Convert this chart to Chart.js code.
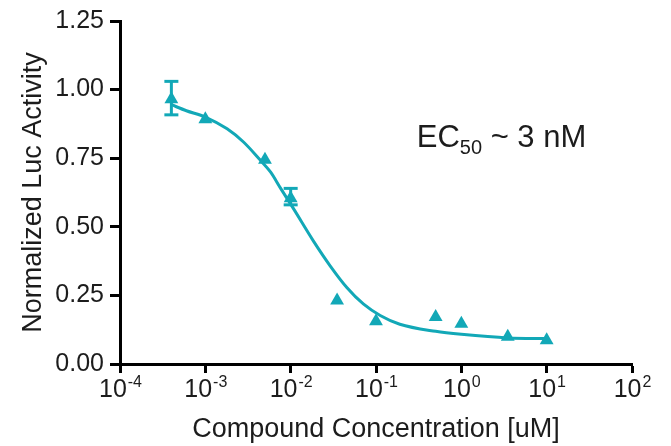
<!DOCTYPE html>
<html>
<head>
<meta charset="utf-8">
<script src="https://cdn.jsdelivr.net/npm/chart.js@4"></script>
<style>
  html, body { margin: 0; padding: 0; background: #fff; }
  #wrap { width: 671px; height: 446px; }
</style>
</head>
<body>
<div id="wrap"><canvas id="doseChart" width="671" height="446"></canvas></div>
<script>
// measured points (concentration in uM, normalized activity)
const concentration = [0.0004, 0.001, 0.005, 0.01, 0.035, 0.1, 0.5, 1, 3.5, 10];
const activity = [0.965, 0.892, 0.744, 0.604, 0.231, 0.156, 0.171, 0.147, 0.099, 0.087];

// error bars (only two points have visible ones)
const errorX = [0.0004, 0.01];
const errorLow = [0.908, 0.58];
const errorHigh = [1.03, 0.64];

// fitted curve
const fitX = [0.0004, 0.0006, 0.001, 0.0018, 0.0028, 0.0044, 0.0058, 0.0076, 0.0107, 0.0185, 0.029, 0.0455, 0.071, 0.112, 0.19, 0.5, 1, 3.5, 10];
const fitY = [0.945, 0.923, 0.90, 0.857, 0.809, 0.743, 0.70, 0.641, 0.568, 0.448, 0.358, 0.279, 0.219, 0.177, 0.145, 0.119, 0.108, 0.095, 0.093];

// axes
const xTicks = [1e-4, 1e-3, 1e-2, 1e-1, 1, 10, 100];
const yTicks = [0, 0.25, 0.5, 0.75, 1.0, 1.25];

// annotation anchor, in data units
const labelPos = [0.3, 0.79];

const teal = '#12a8b7';
const ink = '#1c1c1c';
const fontFamily = '"Liberation Sans", Arial, Helvetica, sans-serif';

// x tick labels drawn as 10 + raised exponent, plus the EC50 note
const powerLabels = {
    id: 'powerLabels',
    afterDraw(chart) {
        const ctx = chart.ctx;
        const sx = chart.scales.x;
        ctx.save();
        ctx.fillStyle = ink;
        ctx.textBaseline = 'alphabetic';
        ctx.textAlign = 'left';
        sx.ticks.forEach(t => {
            const px = sx.getPixelForValue(t.value);
            const exp = String(Math.round(Math.log10(t.value)));
            ctx.font = '25px ' + fontFamily;
            const w1 = ctx.measureText('10').width;
            ctx.font = '16px ' + fontFamily;
            const w2 = ctx.measureText(exp).width;
            const start = px - (w1 + w2) / 2;
            const base = sx.top + 33;
            ctx.font = '25px ' + fontFamily;
            ctx.fillText('10', start, base);
            ctx.font = '16px ' + fontFamily;
            ctx.fillText(exp, start + w1 + 1, base - 10);
        });

        const sy = chart.scales.y;
        let x = sx.getPixelForValue(labelPos[0]);
        const y = sy.getPixelForValue(labelPos[1]);
        ctx.font = '31px ' + fontFamily;
        ctx.fillText('EC', x, y);
        x += ctx.measureText('EC').width;
        ctx.font = '20px ' + fontFamily;
        ctx.fillText('50', x, y + 7);
        x += ctx.measureText('50').width;
        ctx.font = '31px ' + fontFamily;
        ctx.fillText(' ~ 3 nM', x, y);
        ctx.restore();
    }
};

const errorSets = errorX.map((x, i) => ({
    type: 'scatter',
    data: [{x: x, y: errorLow[i]}, {x: x, y: errorHigh[i]}],
    showLine: true,
    borderColor: teal,
    borderWidth: 3,
    pointStyle: 'line',
    pointRadius: 7,
    pointBorderWidth: 3,
    pointBorderColor: teal,
    order: 2
}));

new Chart(document.querySelector('#doseChart').getContext('2d'), {
    type: 'scatter',
    data: {
        datasets: [
            {
                data: concentration.map((c, i) => ({x: c, y: activity[i]})),
                pointStyle: 'triangle',
                pointRadius: 8,
                pointBorderWidth: 0,
                backgroundColor: teal,
                borderColor: teal,
                order: 1
            },
            ...errorSets,
            {
                data: fitX.map((c, i) => ({x: c, y: fitY[i]})),
                showLine: true,
                cubicInterpolationMode: 'monotone',
                borderColor: teal,
                borderWidth: 3,
                pointRadius: 0,
                order: 3
            }
        ]
    },
    options: {
        responsive: false,
        animation: false,
        layout: { padding: { top: 18, right: 39, left: 0, bottom: 0 } },
        plugins: { legend: { display: false }, tooltip: { enabled: false } },
        scales: {
            x: {
                type: 'logarithmic',
                min: 1e-4,
                max: 1e2,
                afterBuildTicks: axis => { axis.ticks = xTicks.map(v => ({value: v})); },
                afterFit: s => { s.height = 82; },
                ticks: { display: false },
                grid: { drawOnChartArea: false, drawTicks: true, tickLength: 9, tickWidth: 3, tickColor: '#000' },
                border: { color: '#000', width: 3 },
                title: {
                    display: true,
                    text: 'Compound Concentration [uM]',
                    color: ink,
                    font: { size: 27, family: fontFamily },
                    padding: { bottom: 0 }
                }
            },
            y: {
                min: 0,
                max: 1.25,
                afterBuildTicks: axis => { axis.ticks = yTicks.map(v => ({value: v})); },
                afterFit: s => { s.width = 120; },
                ticks: {
                    color: ink,
                    font: { size: 25, family: fontFamily },
                    padding: 6,
                    callback: v => Number(v).toFixed(2)
                },
                grid: { drawOnChartArea: false, drawTicks: true, tickLength: 10, tickWidth: 3, tickColor: '#000' },
                border: { color: '#000', width: 3 },
                title: {
                    display: true,
                    text: 'Normalized Luc Activity',
                    color: ink,
                    font: { size: 27, family: fontFamily },
                    padding: { top: 17 }
                }
            }
        }
    },
    plugins: [powerLabels]
});
</script>
</body>
</html>
